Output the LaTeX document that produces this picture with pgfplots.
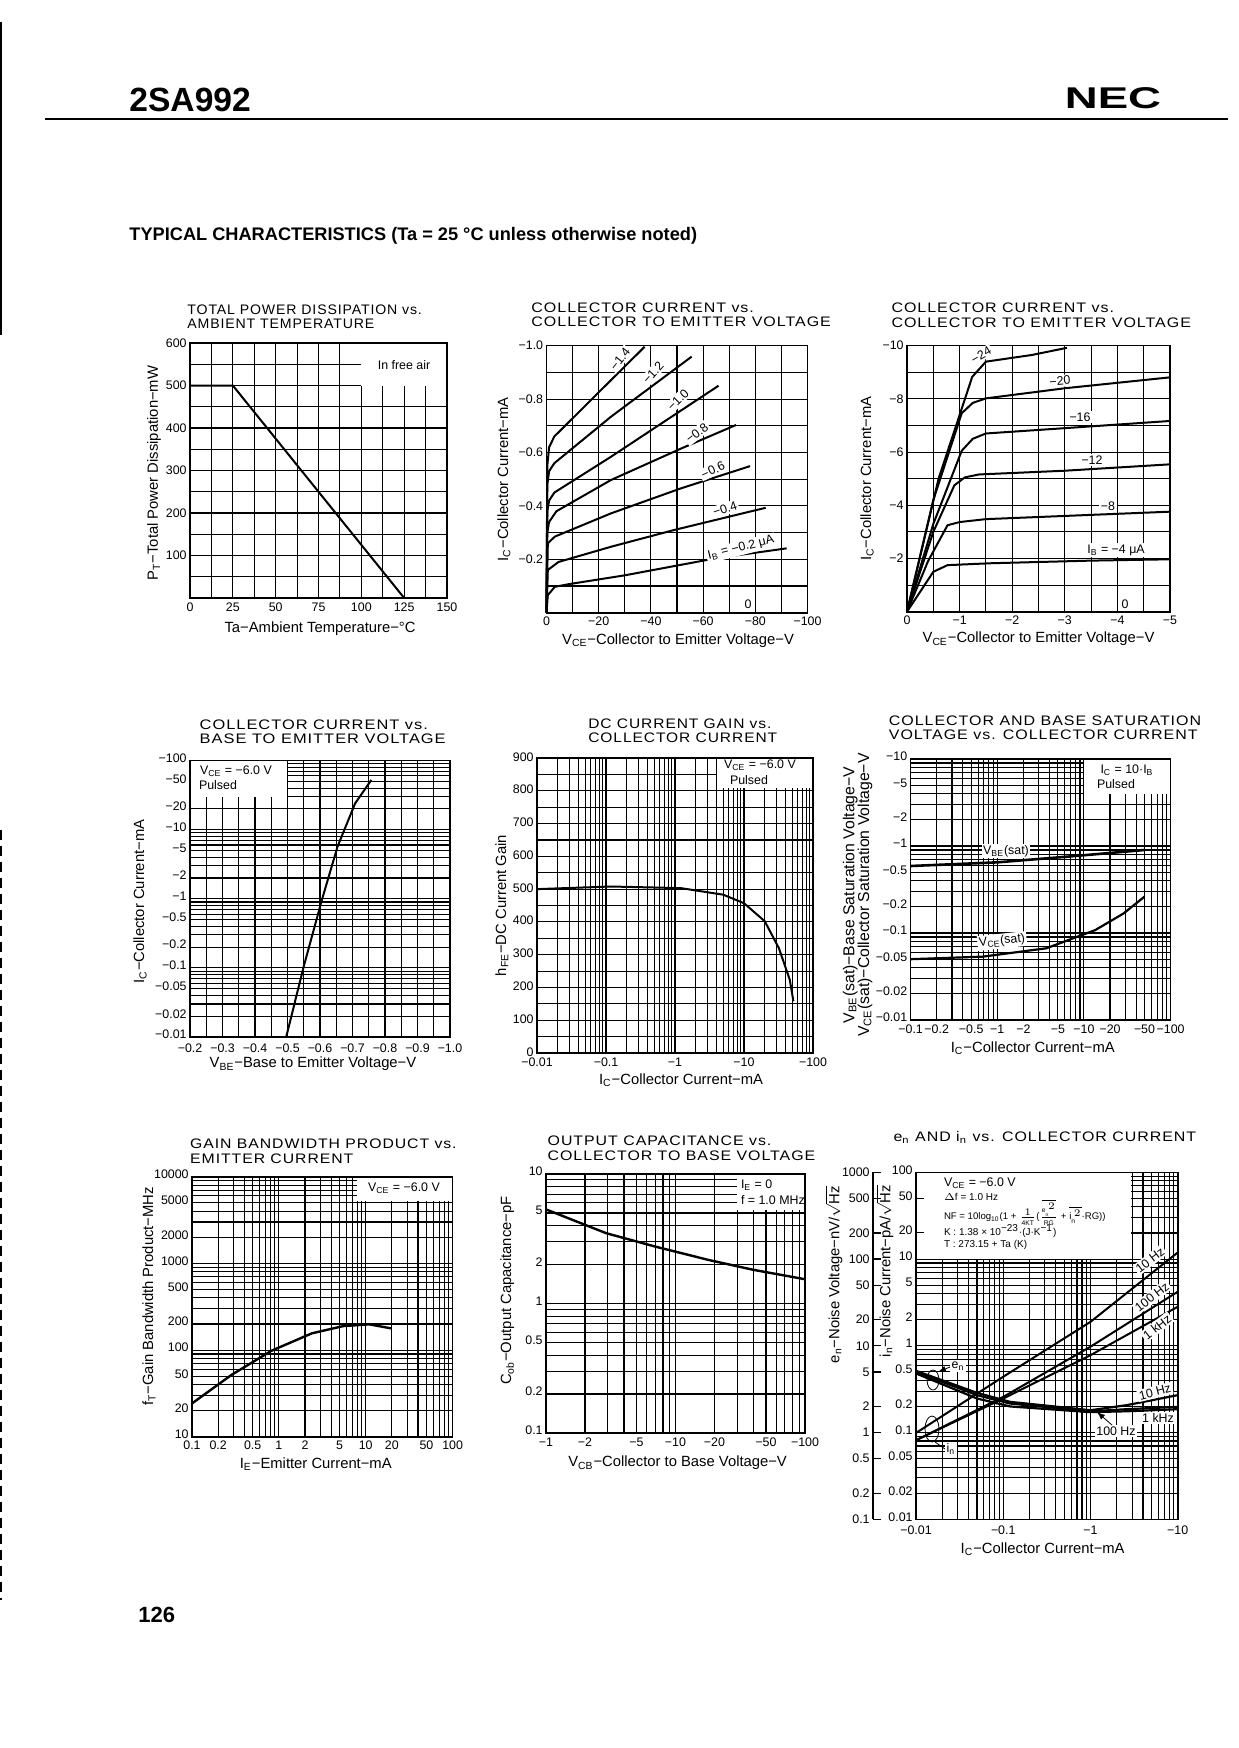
\documentclass[border=0pt]{standalone}
\usepackage{fontspec}
\setmainfont{Liberation Sans}
\newfontfamily\ttlfont[LetterSpace=6]{Liberation Sans}
\usepackage{pgfplots}
\pgfplotsset{compat=1.18}

\newcommand\tk{\fontsize{6.2}{7}\selectfont}
\newcommand\lb{\fontsize{7.4}{8}\selectfont}
\newcommand\lbb{\fontsize{7.9}{9}\selectfont}
\newcommand\ttl{\ttlfont\fontsize{6.9}{7.2}\selectfont}
\newcommand\sub[1]{\textsubscript{#1}}

% page is 1238x1748 px, one px = 0.5pt; at= is (px/2, -py/2) in pt
\pgfplotsset{
  ds/.style={
    scale only axis, anchor=south west, clip=false,
    major tick length=0pt, minor tick length=0pt,
    grid=both,
    grid style={black, line width=.55pt},
    minor grid style={black, line width=.55pt},
    major grid style={black, line width=.55pt},
    axis line style={black, line width=.8pt},
    tick label style={font=\tk, inner sep=1.5pt},
    x tick label style={yshift=-.6pt},
    xlabel style={font=\lb, anchor=center},
    ylabel style={font=\lb, anchor=center},
    title style={font=\ttl, anchor=west, align=left},
    cycle list={{black,solid}\\},
    every axis plot/.append style={black, solid, line width=1pt, no markers},
  },
  logy/.style={y tick label style={yshift=1.2pt}},
}
\newcommand\plotframe{\draw[line width=.8pt] (rel axis cs:0,0) rectangle (rel axis cs:1,1);}

\begin{document}
\begin{tikzpicture}
\path[use as bounding box] (0pt,0pt) rectangle (619pt,-874pt);

% page head
\begin{scope}[x=0.5pt,y=-0.5pt]
\node[anchor=west, inner sep=0, font=\fontsize{16.8}{17}\selectfont\bfseries] at (129,100) {2SA992};
\node[anchor=center, inner sep=0, font=\fontsize{15}{16}\selectfont\bfseries, xscale=1.52] at (1113,98) {NEC};
\draw[line width=.8pt] (45,119) -- (1228,119);
\node[anchor=west, inner sep=0, font=\fontsize{9.1}{10}\selectfont\bfseries] at (129,235.5) {TYPICAL CHARACTERISTICS (Ta = 25 °C unless otherwise noted)};
\node[anchor=west, inner sep=0, font=\fontsize{11}{12}\selectfont\bfseries] at (138,1615) {126};
% scan edge
\draw[line width=1pt] (1,22) -- (1,335);
\draw[line width=1pt, dash pattern=on 5pt off 3pt] (1,830) -- (1,1600);
\end{scope}

% 1: power dissipation
\begin{axis}[ds, at={(95pt,-299pt)}, width=128.5pt, height=127.5pt,
  xmin=0, xmax=150, ymin=0, ymax=600,
  xtick={0,25,50,75,100,125,150}, xticklabels={0,25,50,75,100,125,150},
  minor xtick={12.5,37.5,62.5,87.5,112.5,137.5},
  ytick={0,100,200,300,400,500,600}, yticklabels={,100,200,300,400,500,600},
  minor ytick={50,150,250,350,450,550},
  title={TOTAL POWER DISSIPATION vs.\\AMBIENT TEMPERATURE},
  title style={xscale=1.024, at={(axis description cs:-0.038,1.055)}},
  xlabel={Ta−Ambient Temperature−°C}, xlabel style={at={(axis description cs:0.506,-0.122)}},
  ylabel={P\sub{T}−Total Power Dissipation−mW}, ylabel style={at={(axis description cs:-0.14,0.49)}},
]
\fill[white] (axis cs:100,500) rectangle (axis cs:150,600);
\addplot coordinates {(0,500) (25,500) (125,0)};
\plotframe
\end{axis}

% 2: Ic vs Vce, 0..-100 V
\begin{axis}[ds, at={(273.25pt,-306.35pt)}, width=130.5pt, height=133.5pt,
  xmin=0, xmax=100, ymin=0, ymax=1,
  xtick={0,20,40,60,80,100}, xticklabels={0,−20,−40,−60,−80,−100},
  minor xtick={10,30,50,70,90},
  ytick={0,0.2,0.4,0.6,0.8,1}, yticklabels={,−0.2,−0.4,−0.6,−0.8,−1.0},
  minor ytick={0.1,0.3,0.5,0.7,0.9},
  title={COLLECTOR CURRENT vs.\\COLLECTOR TO EMITTER VOLTAGE},
  title style={xscale=1.16, at={(axis description cs:-0.089,1.07)}},
  xlabel={V\sub{CE}−Collector to Emitter Voltage−V}, xlabel style={at={(axis description cs:0.504,-0.103)}},
  ylabel={I\sub{C}−Collector Current−mA}, ylabel style={at={(axis description cs:-0.163,0.5)}},
]
\addplot coordinates {(0,0) (0.5,0.066) (3.2,0.097) (8.6,0.107) (30,0.14) (65,0.204) (92,0.241)};
\addplot coordinates {(0,0) (0.5,0.16) (4.6,0.19) (24.7,0.247) (49,0.31) (84,0.393)};
\addplot coordinates {(0,0) (0.5,0.26) (3.2,0.285) (24.7,0.372) (51.6,0.466) (78,0.549)};
\addplot coordinates {(0,0) (0.3,0.30) (1,0.34) (3.8,0.38) (24.7,0.497) (51.6,0.615) (72.6,0.703)};
\addplot coordinates {(0,0) (0.3,0.38) (1,0.42) (3,0.45) (24.7,0.584) (65.9,0.85)};
\addplot coordinates {(0,0) (0.3,0.48) (1,0.53) (3,0.56) (24.7,0.734) (55.6,0.959)};
\addplot coordinates {(0,0) (0.3,0.55) (1,0.62) (3,0.66) (24.7,0.871) (37.6,0.996)};
\addplot[line width=1.2pt] coordinates {(0,0) (100,0)};
\plotframe
\end{axis}

% 3: Ic vs Vce, 0..-5 V
\begin{axis}[ds, at={(453.5pt,-305.85pt)}, width=131.5pt, height=133pt,
  xmin=0, xmax=5, ymin=0, ymax=10,
  xtick={0,1,2,3,4,5}, xticklabels={0,−1,−2,−3,−4,−5},
  minor xtick={0.5,1.5,2.5,3.5,4.5},
  ytick={0,2,4,6,8,10}, yticklabels={,−2,−4,−6,−8,−10},
  minor ytick={1,3,5,7,9},
  title={COLLECTOR CURRENT vs.\\COLLECTOR TO EMITTER VOLTAGE},
  title style={xscale=1.16, at={(axis description cs:-0.09,1.07)}},
  xlabel={V\sub{CE}−Collector to Emitter Voltage−V}, xlabel style={at={(axis description cs:0.5,-0.103)}},
  ylabel={I\sub{C}−Collector Current−mA}, ylabel style={at={(axis description cs:-0.152,0.5)}},
]
\addplot coordinates {(0,0) (0.2,0.6) (0.5,1.5) (0.77,1.75) (1.57,1.82) (3.5,1.92) (5,1.97)};
\addplot coordinates {(0,0) (0.4,1.9) (0.77,3.25) (1,3.37) (1.5,3.48) (3,3.6) (5,3.76)};
\addplot coordinates {(0,0) (0.5,3) (0.9,4.75) (1.1,5.05) (1.37,5.16) (3,5.3) (5,5.54)};
\addplot coordinates {(0,0) (0.5,3.3) (1.04,6.05) (1.25,6.5) (1.5,6.7) (3,6.9) (5,7.17)};
\addplot coordinates {(0,0) (0.5,4.2) (1.04,7.46) (1.25,7.85) (1.5,8.02) (3,8.4) (5,8.81)};
\addplot coordinates {(0,0) (0.6,5) (1.24,8.83) (1.5,9.4) (2.37,9.65) (3.04,9.92)};
\addplot[line width=1.2pt] coordinates {(0,0) (5,0)};
\plotframe
\end{axis}

% 4: Ic vs Vbe
\begin{axis}[ds, logy, at={(95pt,-518.5pt)}, width=130pt, height=138.2pt,
  xmin=0.2, xmax=1, ymode=log, ymin=0.01, ymax=100,
  x tick label style={yshift=-1.2pt},
  xtick={0.2,0.3,0.4,0.5,0.6,0.7,0.8,0.9,1}, xticklabels={−0.2,−0.3,−0.4,−0.5,−0.6,−0.7,−0.8,−0.9,−1.0},
  minor xtick={0.25,0.35,0.45,0.55,0.65,0.75,0.85,0.95},
  ytick={0.01,0.02,0.05,0.1,0.2,0.5,1,2,5,10,20,50,100},
  yticklabels={−0.01,−0.02,−0.05,−0.1,−0.2,−0.5,−1,−2,−5,−10,−20,−50,−100},
  minor ytick={0.03,0.04,0.06,0.07,0.08,0.09,0.3,0.4,0.6,0.7,0.8,0.9,3,4,6,7,8,9,30,40,60,70,80,90},
  title={COLLECTOR CURRENT vs.\\BASE TO EMITTER VOLTAGE},
  title style={xscale=1.19, at={(axis description cs:0.005,1.06)}},
  xlabel={V\sub{BE}−Base to Emitter Voltage−V}, xlabel style={at={(axis description cs:0.473,-0.098)}},
  ylabel={I\sub{C}−Collector Current−mA}, ylabel style={at={(axis description cs:-0.192,0.49)}},
]
\fill[white] (axis cs:0.2,30) rectangle (axis cs:0.5,100);
\addplot coordinates {(0.496,0.01) (0.55,0.105) (0.606,0.97) (0.654,5.7) (0.708,24) (0.758,52.5)};
\plotframe
\end{axis}

% 5: hFE
\begin{axis}[ds, at={(268.5pt,-526.5pt)}, width=138pt, height=147.5pt,
  xmode=log, xmin=0.01, xmax=100, ymin=0, ymax=900,
  y tick label style={yshift=.6pt},
  xtick={0.01,0.1,1,10,100}, xticklabels={−0.01,−0.1,−1,−10,−100},
  minor xtick={0.02,0.03,0.04,0.05,0.06,0.07,0.08,0.09,0.2,0.3,0.4,0.5,0.6,0.7,0.8,0.9,2,3,4,5,6,7,8,9,20,30,40,50,60,70,80,90},
  ytick={0,100,200,300,400,500,600,700,800,900}, yticklabels={0,100,200,300,400,500,600,700,800,900},
  minor ytick={50,150,250,350,450,550,650,750,850},
  title={DC CURRENT GAIN vs.\\COLLECTOR CURRENT},
  title style={xscale=1.126, at={(axis description cs:0.157,1.052)}},
  xlabel={I\sub{C}−Collector Current−mA}, xlabel style={at={(axis description cs:0.522,-0.092)}},
  ylabel={h\sub{FE}−DC Current Gain}, ylabel style={at={(axis description cs:-0.127,0.50)}},
]
\fill[white] (axis cs:4,810) rectangle (axis cs:100,900);
\addplot coordinates {(0.01,500) (0.118,508) (1.22,503) (5,483) (10,457) (20,402) (32,320) (46,224) (52,158)};
\plotframe
\end{axis}

% 6: saturation voltages
\begin{axis}[ds, logy, at={(455.3pt,-510pt)}, width=130pt, height=130.5pt,
  xmode=log, xmin=0.1, xmax=100, ymode=log, ymin=0.01, ymax=10,
  xtick={0.1,0.2,0.5,1,2,5,10,20,50,100}, xticklabels={−0.1,−0.2,−0.5,−1,−2,−5,−10,−20,−50,−100},
  minor xtick={0.3,0.4,0.6,0.7,0.8,0.9,3,4,6,7,8,9,30,40,60,70,80,90},
  ytick={0.01,0.02,0.05,0.1,0.2,0.5,1,2,5,10}, yticklabels={−0.01,−0.02,−0.05,−0.1,−0.2,−0.5,−1,−2,−5,−10},
  minor ytick={0.03,0.04,0.06,0.07,0.08,0.09,0.3,0.4,0.6,0.7,0.8,0.9,3,4,6,7,8,9},
  title={COLLECTOR AND BASE SATURATION\\VOLTAGE vs. COLLECTOR CURRENT},
  title style={xscale=1.16, at={(axis description cs:-0.115,1.073)}},
  xlabel={I\sub{C}−Collector Current−mA}, xlabel style={at={(axis description cs:0.47,-0.107)}},
  ylabel={V\sub{BE}(sat)−Base Saturation Voltage−V},
  ylabel style={font=\lbb, at={(axis description cs:-0.232,0.479)}},
]
\fill[white] (axis cs:10,4) rectangle (axis cs:100,10);
\addplot[line width=1.3pt] coordinates {(0.1,0.589) (1,0.649) (6.4,0.754) (50,0.90)};
\addplot[line width=1.1pt] coordinates {(0.1,0.05) (0.68,0.0535) (3.67,0.0667) (13.5,0.108) (28.7,0.168) (50,0.262)};
\plotframe
\end{axis}
\node[font=\lbb, rotate=90] at (432.5pt,-447.5pt) {V\sub{CE}(sat)−Collector Saturation Voltage−V};

% 7: gain bandwidth
\begin{axis}[ds, logy, at={(96pt,-718.35pt)}, width=130.3pt, height=130pt,
  xmode=log, xmin=0.1, xmax=100, ymode=log, ymin=10, ymax=10000,
  xtick={0.1,0.2,0.5,1,2,5,10,20,50,100}, xticklabels={0.1,0.2,0.5,1,2,5,10,20,50,100},
  minor xtick={0.3,0.4,0.6,0.7,0.8,0.9,3,4,6,7,8,9,30,40,60,70,80,90},
  ytick={10,20,50,100,200,500,1000,2000,5000,10000}, yticklabels={10,20,50,100,200,500,1000,2000,5000,10000},
  minor ytick={30,40,60,70,80,90,300,400,600,700,800,900,3000,4000,6000,7000,8000,9000},
  title={GAIN BANDWIDTH PRODUCT vs.\\EMITTER CURRENT},
  title style={xscale=1.144, at={(axis description cs:-0.038,1.052)}},
  xlabel={I\sub{E}−Emitter Current−mA}, xlabel style={at={(axis description cs:0.475,-0.105)}},
  ylabel={f\sub{T}−Gain Bandwidth Product−MHz}, ylabel style={at={(axis description cs:-0.165,0.54)}},
]
\fill[white] (axis cs:8,5300) rectangle (axis cs:100,10000);
\addplot[line width=1.2pt] coordinates {(0.1,24.2) (0.284,51.6) (0.82,98) (2.4,156) (5.5,189) (11,198) (19.5,178)};
\plotframe
\end{axis}

% 8: output capacitance
\begin{axis}[ds, logy, at={(273pt,-716.5pt)}, width=129.5pt, height=129.5pt,
  xmode=log, xmin=1, xmax=100, ymode=log, ymin=0.1, ymax=10,
  xtick={1,2,5,10,20,50,100}, xticklabels={−1,−2,−5,−10,−20,−50,−100},
  minor xtick={3,4,6,7,8,9,30,40,60,70,80,90},
  ytick={0.1,0.2,0.5,1,2,5,10}, yticklabels={0.1,0.2,0.5,1,2,5,10},
  minor ytick={0.3,0.4,0.6,0.7,0.8,0.9,3,4,6,7,8,9},
  title={OUTPUT CAPACITANCE vs.\\COLLECTOR TO BASE VOLTAGE},
  title style={xscale=1.154, at={(axis description cs:-0.025,1.053)}},
  xlabel={V\sub{CB}−Collector to Base Voltage−V}, xlabel style={at={(axis description cs:0.508,-0.115)}},
  ylabel={C\sub{ob}−Output Capacitance−pF}, ylabel style={at={(axis description cs:-0.149,0.55)}},
]
\fill[white] (axis cs:30,5.3) rectangle (axis cs:100,10);
\addplot[line width=1.2pt] coordinates {(1,5.33) (2.92,3.49) (7,2.75) (18,2.17) (40,1.82) (100,1.54)};
\plotframe
\end{axis}

% 9: noise, in on the inner axis
\begin{axis}[ds, logy, at={(458pt,-759.65pt)}, width=130.85pt, height=173.5pt,
  xmode=log, xmin=0.01, xmax=10, ymode=log, ymin=0.01, ymax=100,
  x tick label style={yshift=-1.2pt},
  xtick={0.01,0.1,1,10}, xticklabels={−0.01,−0.1,−1,−10},
  minor xtick={0.02,0.03,0.04,0.05,0.06,0.07,0.08,0.09,0.2,0.3,0.4,0.5,0.6,0.7,0.8,0.9,2,3,4,5,6,7,8,9},
  ytick={0.01,0.02,0.05,0.1,0.2,0.5,1,2,5,10,20,50,100},
  yticklabels={0.01,0.02,0.05,0.1,0.2,0.5,1,2,5,10,20,50,100},
  minor ytick={0.03,0.04,0.06,0.07,0.08,0.09,0.3,0.4,0.6,0.7,0.8,0.9,3,4,6,7,8,9,30,40,60,70,80,90},
  title={e\sub{n} AND i\sub{n} vs. COLLECTOR CURRENT},
  title style={xscale=1.157, at={(axis description cs:-0.117,1.065)}},
  xlabel={I\sub{C}−Collector Current−mA}, xlabel style={at={(axis description cs:0.484,-0.086)}},
  ylabel={i\sub{n}−Noise Current−pA/$\sqrt{\mbox{Hz}}$}, ylabel style={at={(axis description cs:-0.118,0.715)}},
]
\fill[white] (axis cs:0.01,10) rectangle (axis cs:2.9,100);
\draw[line width=.5pt] (axis cs:0.01,50) -- (axis cs:0.0122,50);
\draw[line width=.5pt] (axis cs:0.01,20) -- (axis cs:0.0122,20);
\addplot coordinates {(0.01,0.099) (0.1,0.44) (1,1.89) (10,11.9)};
\addplot coordinates {(0.01,0.0816) (0.1,0.258) (1,0.977) (10,4.2)};
\addplot coordinates {(0.01,0.0816) (0.1,0.247) (1,0.78) (10,2.82)};
\plotframe
\end{axis}

% 9: noise, en on the outer axis (same decades, axis line further left)
\begin{axis}[scale only axis, anchor=south west, clip=false, at={(436.5pt,-759.65pt)}, width=152.35pt, height=173.5pt,
  xmode=log, xmin=0.003213, xmax=10, ymode=log, ymin=0.1, ymax=1000,
  axis x line=none, axis y line=left, axis line style={-, black, line width=.6pt},
  tick align=inside, major tick length=4pt, minor tick length=0pt,
  tick style={black, line width=.6pt},
  tick label style={font=\tk, inner sep=1.5pt},
  ytick={0.1,0.2,0.5,1,2,5,10,20,50,100,200,500,1000},
  yticklabels={0.1,0.2,0.5,1,2,5,10,20,50,100,200,500,1000},
  ylabel={e\sub{n}−Noise Voltage−nV/$\sqrt{\mbox{Hz}}$},
  ylabel style={font=\lb, anchor=center, at={(axis description cs:-0.128,0.705)}},
  cycle list={{black,solid}\\},
  every axis plot/.append style={black, solid, line width=1.1pt, no markers},
]
\addplot coordinates {(0.01,5.15) (0.05,2.87) (0.12,2.26) (1,1.81) (2.6,2.07) (10,2.7)};
\addplot coordinates {(0.01,5.01) (0.05,2.7) (0.12,2.16) (1,1.76) (2.6,1.86) (10,1.98)};
\addplot coordinates {(0.01,4.8) (0.05,2.47) (0.12,2.0) (1,1.72) (2.6,1.76) (10,1.86)};
\end{axis}

% curve and box labels
\begin{scope}[x=0.5pt,y=-0.5pt,every node/.style={font=\tk, inner sep=.8pt}]
\node at (404,365) {In free air};
\node[fill=white, rotate=52] at (620,359) {−1.4};
\node[fill=white, rotate=48] at (653,373) {−1.2};
\node[fill=white, rotate=45] at (678,400) {−1.0};
\node[fill=white, rotate=38] at (697,433) {−0.8};
\node[fill=white, rotate=25] at (713,470) {−0.6};
\node[fill=white, rotate=18] at (725,509) {−0.4};
\node[fill=white, rotate=14] at (741,548) {I\sub{B} = −0.2 μA};
\node[fill=white] at (748,604) {0};
\node[fill=white, rotate=30] at (981,355) {−24};
\node[fill=white, rotate=5] at (1060,381) {−20};
\node[fill=white] at (1080,417) {−16};
\node[fill=white] at (1092,460) {−12};
\node[fill=white] at (1108,506) {−8};
\node[fill=white] at (1116,550) {I\sub{B} = −4 μA};
\node[fill=white] at (1125,604) {0};
\node at (236,771) {V\sub{CE} = −6.0 V};
\node at (218,785) {Pulsed};
\node at (760,765) {V\sub{CE} = −6.0 V};
\node at (749,780) {Pulsed};
\node at (1127,770) {I\sub{C} = 10·I\sub{B}};
\node at (1116,784) {Pulsed};
\node[fill=white] at (1006,851) {V\sub{BE}(sat)};
\node[fill=white, rotate=6] at (1002,941) {V\sub{CE}(sat)};
\node at (404,1188) {V\sub{CE} = −6.0 V};
\node[anchor=west] at (739,1185) {I\sub{E} = 0};
\node[anchor=west] at (739,1200) {f = 1.0 MHz};
\node[anchor=west] at (942,1183) {V\sub{CE} = −6.0 V};
\node[anchor=west, font=\fontsize{5}{6}\selectfont] at (942,1197) {$\Delta$f = 1.0 Hz};
\node[anchor=west, font=\fontsize{4.8}{6}\selectfont] at (942,1212) {NF = 10log\sub{10}(1 + $\frac{1}{\mathrm{4KT}}$($\frac{\overline{\mathrm{e}_{\mathrm{n}}^{\,2}}}{\mathrm{RG}}$ + $\overline{\mathrm{i}_{\mathrm{n}}^{\,2}}$·RG))};
\node[anchor=west, font=\fontsize{5}{6}\selectfont] at (942,1231) {K : 1.38 × 10\textsuperscript{−23}·(J·K\textsuperscript{−1})};
\node[anchor=west, font=\fontsize{5}{6}\selectfont] at (942,1245) {T : 273.15 + Ta (K)};
\node[fill=white, rotate=38] at (1150,1260) {10 Hz};
\node[fill=white, rotate=38] at (1152,1297) {100 Hz};
\node[fill=white, rotate=38] at (1157,1327) {1 kHz};
\node[fill=white, rotate=14] at (1155,1392) {10 Hz};
\node[fill=white] at (1116,1431) {100 Hz};
\node[fill=white] at (1158,1418) {1 kHz};
\node[fill=white] at (958,1366) {e\sub{n}};
\node[fill=white] at (951,1449) {i\sub{n}};
\draw[line width=.4pt] (933,1380) ellipse [x radius=6, y radius=10];
\draw[line width=.4pt] (932,1429) ellipse [x radius=7, y radius=13];
\draw[line width=.4pt, -latex] (950,1367) -- (938,1372);
\draw[line width=.4pt] (945,1449) -- (935,1442);
\draw[line width=.4pt, -latex] (1112,1425) -- (1097,1412);
\end{scope}
\end{tikzpicture}
\end{document}
